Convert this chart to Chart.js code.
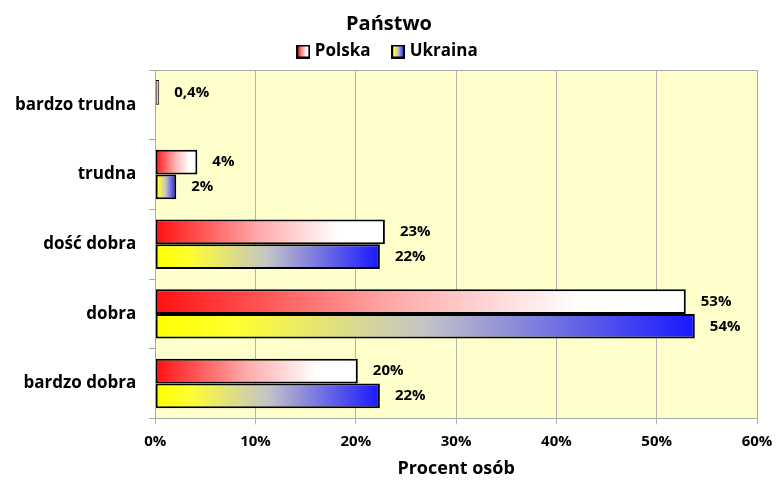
<!DOCTYPE html>
<html>
<head>
<meta charset="utf-8">
<script src="https://cdn.jsdelivr.net/npm/chart.js@4.4.1/dist/chart.umd.min.js"></script>
<style>
  body { margin: 0; background: #fff; }
  #wrap { width: 776px; height: 480px; }
</style>
</head>
<body>
<div id="wrap"><canvas id="difficulty"></canvas></div>
<script>
// Data block
const categories = ['bardzo trudna', 'trudna', 'dość dobra', 'dobra', 'bardzo dobra'];
const polskaValues = [0.4, 4.2, 22.9, 52.9, 20.2];
const ukrainaValues = [null, 2.1, 22.4, 53.8, 22.4];
const xTicks = [0, 10, 20, 30, 40, 50, 60];

const FONT = '"Open Sans"';

// Gradient stops for each country
const polskaStops = [[0, '#ff1010'], [0.45, '#ffaaaa'], [0.8, '#ffffff'], [1, '#ffffff']];
const ukrainaStops = [[0, '#ffff00'], [0.15, '#ffff30'], [0.5, '#c4c4c8'], [1, '#1818ff']];

function barGradient(context, stops) {
    const chart = context.chart;
    const xScale = chart.scales.x;
    if (!xScale || context.raw == null) return stops[0][1];
    const x0 = xScale.getPixelForValue(0);
    const x1 = xScale.getPixelForValue(context.raw);
    if (!isFinite(x0) || !isFinite(x1)) return stops[0][1];
    if (x1 - x0 < 8) return '#ffc0c0';  // very short bar: pale fill
    const g = chart.ctx.createLinearGradient(x0, 0, x1, 0);
    stops.forEach(s => g.addColorStop(s[0], s[1]));
    return g;
}

// thin border for tiny bars so the fill stays visible
const barBorder = c => (c.raw != null && c.raw < 1 ? 1 : 2);

// Legend swatches as small canvases
function swatch(stops) {
    const c = document.createElement('canvas');
    c.width = 14; c.height = 14;
    const cx = c.getContext('2d');
    const g = cx.createLinearGradient(1, 0, 13, 0);
    stops.forEach(s => g.addColorStop(s[0], s[1]));
    cx.fillStyle = g;
    cx.fillRect(1, 1, 12, 12);
    cx.lineWidth = 2;
    cx.strokeStyle = '#000';
    cx.strokeRect(1, 1, 12, 12);
    return c;
}

function formatPct(v) {
    if (v < 1) return v.toFixed(1).replace('.', ',') + '%';
    return Math.round(v) + '%';
}

// Plot area background plugin
const plotBackground = {
    id: 'plotBackground',
    beforeDraw(chart) {
        const {ctx, chartArea: a} = chart;
        ctx.save();
        ctx.fillStyle = '#ffffcc';
        ctx.fillRect(a.left, a.top, a.right - a.left, a.bottom - a.top);
        ctx.restore();
    },
    afterDraw(chart) {
        const {ctx, chartArea: a} = chart;
        ctx.save();
        ctx.strokeStyle = '#a8a8a8';
        ctx.lineWidth = 1;
        ctx.strokeRect(Math.round(a.left) + 0.5, Math.round(a.top) + 0.5,
                       Math.round(a.right - a.left), Math.round(a.bottom - a.top));
        ctx.restore();
    }
};

// Value labels plugin
const valueLabels = {
    id: 'valueLabels',
    afterDatasetsDraw(chart) {
        const ctx = chart.ctx;
        ctx.save();
        ctx.font = 'bold 15px ' + FONT;
        ctx.fillStyle = '#000';
        ctx.textAlign = 'left';
        ctx.textBaseline = 'middle';
        chart.data.datasets.forEach((ds, i) => {
            chart.getDatasetMeta(i).data.forEach((bar, j) => {
                const v = ds.data[j];
                if (v == null) return;
                ctx.fillText(formatPct(v), bar.x + 15, bar.y);
            });
        });
        ctx.restore();
    }
};

const config = {
    type: 'bar',
    data: {
        labels: categories,
        datasets: [{
            label: 'Polska',
            data: polskaValues,
            backgroundColor: c => barGradient(c, polskaStops),
            borderColor: '#000',
            borderWidth: barBorder,
            borderSkipped: false,
            pointStyle: swatch(polskaStops)
        }, {
            label: 'Ukraina',
            data: ukrainaValues,
            backgroundColor: c => barGradient(c, ukrainaStops),
            borderColor: '#000',
            borderWidth: barBorder,
            borderSkipped: false,
            pointStyle: swatch(ukrainaStops)
        }]
    },
    options: {
        indexAxis: 'y',
        maintainAspectRatio: false,
        animation: false,
        categoryPercentage: 0.71,
        barPercentage: 1,
        layout: { padding: { left: 2, right: 0, top: 0, bottom: 0 } },
        plugins: {
            title: {
                display: true,
                text: 'Państwo',
                color: '#000',
                font: { family: FONT, size: 20, weight: 'bold' },
                padding: { top: 12, bottom: 0 }
            },
            legend: {
                position: 'top',
                onClick: null,
                labels: {
                    usePointStyle: true,
                    pointStyleWidth: 6,
                    color: '#000',
                    font: { family: FONT, size: 17, weight: 'bold' },
                    boxHeight: 14,
                    padding: 7,
                    // extra room after the first entry, like the original legend
                    generateLabels: chart => {
                        const items = Chart.defaults.plugins.legend.labels.generateLabels(chart);
                        items.forEach((it, i) => { if (i < items.length - 1) it.text += '\u00a0\u00a0\u00a0\u00a0'; });
                        return items;
                    }
                }
            },
            tooltip: { enabled: false }
        },
        scales: {
            x: {
                min: 0,
                max: 60,
                afterBuildTicks: axis => { axis.ticks = xTicks.map(v => ({value: v})); },
                afterFit: axis => { axis.paddingRight = 19; },
                ticks: {
                    color: '#000',
                    font: { family: FONT, size: 15, weight: 'bold' },
                    callback: v => v + '%',
                    padding: 8
                },
                grid: { color: '#b4b4b4', tickLength: 6 },
                border: { color: '#a8a8a8' },
                title: {
                    display: true,
                    text: 'Procent osób',
                    color: '#000',
                    font: { family: FONT, size: 18, weight: 'bold' },
                    padding: { top: 0, bottom: 0 }
                }
            },
            y: {
                ticks: {
                    color: '#000',
                    font: { family: FONT, size: 17, weight: 'bold' },
                    padding: 13
                },
                grid: { offset: true, drawOnChartArea: false, color: '#a8a8a8', tickLength: 6 },
                border: { color: '#a8a8a8' }
            }
        }
    },
    plugins: [plotBackground, valueLabels]
};

const chart = new Chart(document.getElementById('difficulty'), config);
</script>
</body>
</html>
